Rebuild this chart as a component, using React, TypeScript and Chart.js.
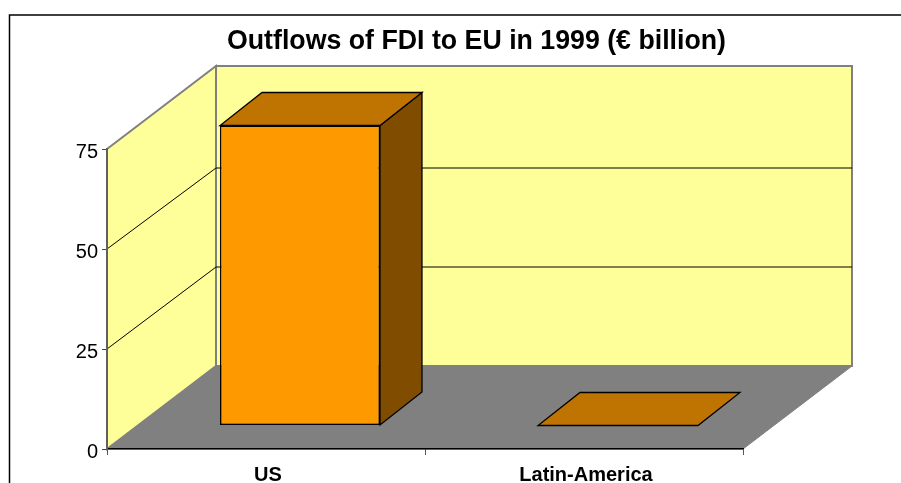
import React, { useEffect, useRef } from "react";
import { Chart, registerables } from "chart.js";

Chart.register(...registerables);

const categories = ["US", "Latin-America"];
const outflows = [75, 0];
const titleText = "Outflows of FDI to EU in 1999 (€ billion)";

const WALL_DX = 109;
const WALL_DY = 83;
const BAR_SHIFT_X = 34;
const BAR_SHIFT_Y = 23.5;
const BAR_DX = 42;
const BAR_DY = 33;

function poly(ctx: CanvasRenderingContext2D, pts: number[][], fill: string | null, stroke: string | null, lw = 1) {
  ctx.beginPath();
  pts.forEach((p, i) => (i ? ctx.lineTo(p[0], p[1]) : ctx.moveTo(p[0], p[1])));
  ctx.closePath();
  if (fill) {
    ctx.fillStyle = fill;
    ctx.fill();
  }
  if (stroke) {
    ctx.strokeStyle = stroke;
    ctx.lineWidth = lw;
    ctx.stroke();
  }
}

const scene3d = {
  id: "scene3d",
  afterLayout(chart: any) {
    const t = chart.titleBlock;
    t.left = 227;
    t.right = 726;
  },
  beforeDraw(chart: any) {
    const { ctx, width, height, scales } = chart;
    const x = scales.x;
    const y = scales.y;
    ctx.save();
    ctx.fillStyle = "#ffffff";
    ctx.fillRect(0, 0, width, height);
    ctx.strokeStyle = "#000000";
    ctx.lineWidth = 1.5;
    ctx.strokeRect(9.5, 15, width + 50, height + 50);

    const l = x.left, r = x.right, t = y.top, b = y.bottom;
    const d = WALL_DX, e = WALL_DY;
    poly(ctx, [[l + d, t - e], [r + d, t - e], [r + d, b - e], [l + d, b - e]], "#FFFF99", "#808080", 2);
    poly(ctx, [[l, t], [l + d, t - e], [l + d, b - e], [l, b]], "#FFFF99", "#808080", 2);
    poly(ctx, [[l, b], [r, b], [r + d, b - e], [l + d, b - e]], "#808080", "#808080", 1);

    ctx.strokeStyle = "#000000";
    ctx.lineWidth = 1;
    y.ticks.forEach((tk: any) => {
      if (tk.value === 0 || tk.value === 75) return;
      const py = y.getPixelForValue(tk.value);
      const backY = Math.round(py - e + tk.value / 25);
      ctx.beginPath();
      ctx.moveTo(l, py);
      ctx.lineTo(l + d, backY);
      ctx.lineTo(r + d, backY);
      ctx.stroke();
    });
    ctx.restore();
  },
  beforeDatasetsDraw(chart: any) {
    const { ctx } = chart;
    ctx.save();
    ctx.translate(BAR_SHIFT_X, -BAR_SHIFT_Y);
    chart.getDatasetMeta(0).data.forEach((bar: any) => {
      const hw = bar.width / 2;
      const xl = bar.x - hw, xr = bar.x + hw, yt = bar.y, yb = bar.base;
      if (yb - yt > 0.5) {
        poly(ctx, [[xr, yt], [xr + BAR_DX, yt - BAR_DY], [xr + BAR_DX, yb - BAR_DY], [xr, yb]], "#804D00", "#000000", 1.3);
      }
      poly(ctx, [[xl, yt], [xr, yt], [xr + BAR_DX, yt - BAR_DY], [xl + BAR_DX, yt - BAR_DY]], "#BF7300", "#000000", 1.3);
    });
  },
  afterDatasetsDraw(chart: any) {
    chart.ctx.restore();
  },
};

export default function App() {
  const ref = useRef<HTMLCanvasElement>(null);
  useEffect(() => {
    const chart = new Chart(ref.current as HTMLCanvasElement, {
      type: "bar",
      data: {
        labels: categories,
        datasets: [
          {
            data: outflows,
            backgroundColor: "#FF9900",
            borderColor: "#000000",
            borderWidth: 1.5,
            borderSkipped: false,
            categoryPercentage: 1,
            barPercentage: 0.503,
            clip: false,
          } as any,
        ],
      },
      options: {
        responsive: false,
        animation: false,
        layout: { padding: { left: 0, right: 158, top: 0, bottom: 0 } },
        plugins: {
          legend: { display: false },
          tooltip: { enabled: false },
          title: {
            display: true,
            text: titleText,
            color: "#000000",
            font: { family: "'Liberation Sans', Arial, sans-serif", size: 26.8, weight: "bold", lineHeight: 1.2 },
            padding: { top: 26, bottom: 90.84 },
          },
        },
        scales: {
          x: {
            afterFit: (s: any) => {
              s.height = 34;
            },
            grid: { drawOnChartArea: false, drawTicks: true, tickLength: 6, color: "#555555" },
            border: { display: true, color: "#000000", width: 1.5 },
            ticks: {
              color: "#000000",
              padding: 8,
              labelOffset: 2,
              maxRotation: 0,
              font: { family: "'Liberation Sans', Arial, sans-serif", size: 20, weight: "bold" },
            },
          },
          y: {
            min: 0,
            max: 75,
            afterFit: (s: any) => {
              s.width = 107;
            },
            grid: { drawOnChartArea: false, drawTicks: true, tickLength: 5, color: "#444444" },
            border: { display: true, color: "#606060", width: 2 },
            ticks: {
              stepSize: 25,
              color: "#000000",
              padding: 4,
              labelOffset: 3,
              font: { family: "'Liberation Sans', Arial, sans-serif", size: 20 },
            },
          },
        },
      } as any,
      plugins: [scene3d],
    });
    return () => chart.destroy();
  }, []);
  return <canvas ref={ref} width={901} height={483} style={{ position: "absolute", left: 0, top: 0, display: "block" }} />;
}
